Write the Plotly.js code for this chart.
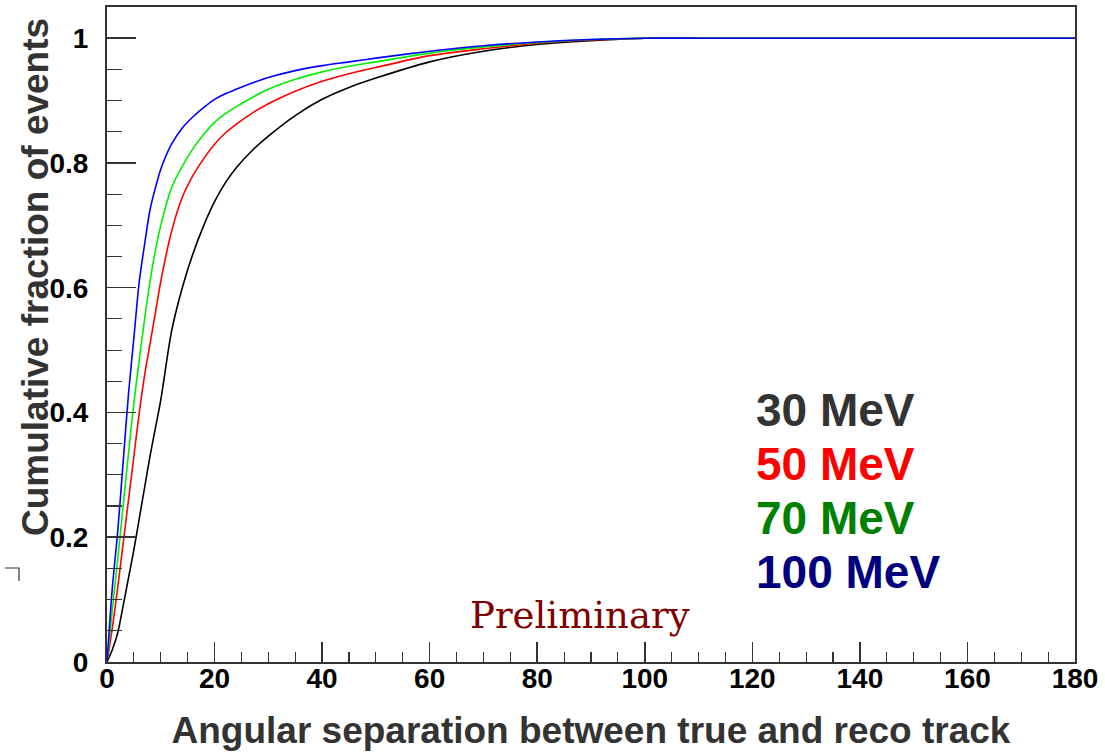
<!DOCTYPE html>
<html>
<head>
<meta charset="utf-8">
<script src="https://cdn.plot.ly/plotly-3.0.1.min.js"></script>
<style>html,body{margin:0;padding:0;background:#fff;}#chart{width:1105px;height:754px;}</style>
</head>
<body>
<div id="chart"></div>
<script>
// Angular separation (x) grid
const angle   = [0, 1, 2, 3, 4, 5, 6, 7, 8, 9, 10, 12, 14, 16, 18, 20, 22, 24, 27, 30, 35, 40, 45, 50, 60, 70, 80, 90, 100, 110, 130, 150, 180];
// Cumulative fraction of events per energy
const frac30  = [0, 0.02, 0.047, 0.09, 0.135, 0.18, 0.23, 0.28, 0.33, 0.375, 0.42, 0.53, 0.60, 0.655, 0.70, 0.738, 0.768, 0.792, 0.82, 0.843, 0.876, 0.902, 0.921, 0.936, 0.962, 0.979, 0.99, 0.996, 1.0, 1.0, 1.0, 1.0, 1.0];
const frac50  = [0, 0.055, 0.12, 0.19, 0.26, 0.33, 0.40, 0.46, 0.51, 0.56, 0.61, 0.69, 0.745, 0.78, 0.807, 0.83, 0.848, 0.862, 0.88, 0.895, 0.915, 0.931, 0.943, 0.953, 0.972, 0.983, 0.992, 0.997, 1.0, 1.0, 1.0, 1.0, 1.0];
const frac70  = [0, 0.085, 0.165, 0.25, 0.335, 0.415, 0.485, 0.55, 0.61, 0.66, 0.70, 0.76, 0.795, 0.823, 0.846, 0.865, 0.879, 0.89, 0.905, 0.918, 0.934, 0.946, 0.955, 0.962, 0.976, 0.986, 0.993, 0.998, 1.0, 1.0, 1.0, 1.0, 1.0];
const frac100 = [0, 0.12, 0.21, 0.32, 0.43, 0.52, 0.61, 0.67, 0.725, 0.76, 0.79, 0.83, 0.856, 0.874, 0.889, 0.902, 0.911, 0.918, 0.928, 0.937, 0.948, 0.956, 0.962, 0.968, 0.979, 0.988, 0.994, 0.998, 1.0, 1.0, 1.0, 1.0, 1.0];

const seriesNames = ["30 MeV", "50 MeV", "70 MeV", "100 MeV"];
const lineColors = ["#000000", "#ff0000", "#00ee00", "#0000ff"];
const labelColors = ["#333333", "#ff0000", "#008000", "#000080"];

const xTickVals = [0, 20, 40, 60, 80, 100, 120, 140, 160, 180];
const xTickText = ["0", "20", "40", "60", "80", "100", "120", "140", "160", "180"];
const yTickVals = [0, 0.2, 0.4, 0.6, 0.8, 1];
const yTickText = ["0", "0.2", "0.4", "0.6", "0.8", "1"];

const xTitle = "Angular separation between true and reco track";
const yTitle = "Cumulative fraction of events";

const allFrac = [frac30, frac50, frac70, frac100];
const traces = allFrac.map((ys, i) => ({
  x: angle, y: ys, type: "scatter", mode: "lines", name: seriesNames[i],
  line: {color: lineColors[i], width: 1.6, shape: "spline", smoothing: 0.8},
  hoverinfo: "skip"
}));

const fontFam = "Liberation Sans, Arial, sans-serif";
const W = 968, H = 655, L = 107, T = 7;
const px = (x) => (x - L) / W;
const py = (y) => (T + H - y) / H;

const annotations = seriesNames.map((t, i) => ({
  text: "<b>" + t + "</b>", xref: "paper", yref: "paper",
  x: px(754), y: py(410 + i * 54),
  xanchor: "left", yanchor: "middle", showarrow: false,
  font: {family: fontFam, size: 46, color: labelColors[i]}
}));
annotations.push({
  text: "Preliminary", xref: "paper", yref: "paper",
  x: px(580), y: py(615), xanchor: "center", yanchor: "middle",
  showarrow: false, font: {family: "DejaVu Serif, serif", size: 37, color: "#800000"}
});
annotations.push({
  text: "<b>" + yTitle + "</b>", xref: "paper", yref: "paper",
  x: px(35), y: py(277), xanchor: "center", yanchor: "middle", textangle: -90,
  showarrow: false, font: {family: fontFam, size: 37, color: "#333"}
});

const layout = {
  width: 1105, height: 754,
  margin: {l: 107, r: 30, t: 7, b: 92},
  paper_bgcolor: "#ffffff", plot_bgcolor: "#ffffff",
  showlegend: false,
  xaxis: {
    range: [0, 180], tickvals: xTickVals, ticktext: xTickText,
    ticks: "inside", ticklen: 20, tickwidth: 1.5, tickcolor: "#333",
    minor: {dtick: 5, tick0: 0, ticks: "inside", ticklen: 10, tickwidth: 1.2, tickcolor: "#333", showgrid: false},
    showgrid: false, zeroline: false, showline: true, linecolor: "#333", linewidth: 2, mirror: true,
    tickfont: {family: fontFam, size: 28, color: "#000", weight: 700},
    ticklabelstandoff: -10,
    title: {text: "<b>" + xTitle + "</b>", font: {family: fontFam, size: 37, color: "#333"}, standoff: 25}
  },
  yaxis: {
    range: [0, 1.05], tickvals: yTickVals, ticktext: yTickText,
    ticks: "inside", ticklen: 29, tickwidth: 1.5, tickcolor: "#333",
    minor: {dtick: 0.05, tick0: 0, ticks: "inside", ticklen: 15, tickwidth: 1.2, tickcolor: "#333", showgrid: false},
    showgrid: false, zeroline: false, showline: true, linecolor: "#333", linewidth: 2, mirror: true,
    tickfont: {family: fontFam, size: 28, color: "#000", weight: 700},
    ticklabelstandoff: 11
  },
  annotations: annotations,
  shapes: [{
    type: "path", xref: "paper", yref: "paper", layer: "above",
    path: "M " + px(5) + " " + py(568) + " L " + px(19) + " " + py(568) + " L " + px(19) + " " + py(581),
    line: {color: "#333", width: 1.2}
  }]
};

Plotly.newPlot("chart", traces, layout, {displayModeBar: false, staticPlot: true});
</script>
</body>
</html>
